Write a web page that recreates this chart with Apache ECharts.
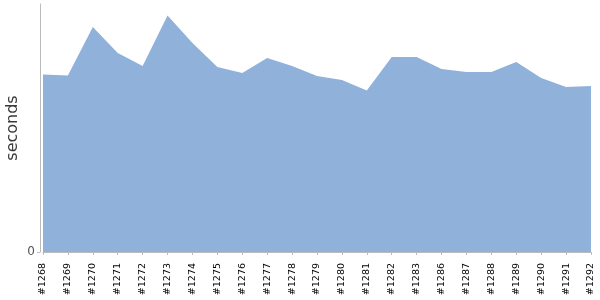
<!DOCTYPE html>
<html><head><meta charset="utf-8">
<script src="https://cdn.jsdelivr.net/npm/echarts@6/dist/echarts.min.js"></script>
<style>html,body{margin:0;padding:0;background:#fff}#c{width:600px;height:300px}</style>
</head><body><div id="c"></div>
<script>
const builds = ["#1268","#1269","#1270","#1271","#1272","#1273","#1274","#1275","#1276","#1277","#1278","#1279","#1280","#1281","#1282","#1283","#1286","#1287","#1288","#1289","#1290","#1291","#1292"];
const seconds = [177.5,176.5,225,199,186,236.5,209,185,179,194,186,176,172,161.5,195,195,183,180,180,190,174,165,166];
const yMax = 248;
const yName = 'seconds';

const chart = echarts.init(document.getElementById('c'), null, {renderer:'canvas'});
chart.setOption({
  animation:false,
  grid:{left:43,right:9,top:4,bottom:48,containLabel:false,outerBoundsMode:'none'},
  graphic:[{
    type:'text', x:13, y:128, rotation:Math.PI/2,
    style:{text:yName, align:'center', verticalAlign:'middle',
      font:'16px "DejaVu Sans"', fill:'#3a3a3a'}
  }],
  xAxis:{
    type:'category', data:builds, boundaryGap:false, offset:5,
    axisLine:{lineStyle:{color:'#bbbbbb'}},
    axisTick:{show:true,length:3,alignWithLabel:true,lineStyle:{color:'#bbbbbb'}},
    axisLabel:{rotate:90,interval:0,color:'#000',fontSize:9.5,fontFamily:'DejaVu Sans',margin:6}
  },
  yAxis:{
    type:'value', min:0, max:yMax, interval:yMax, offset:3,
    axisLine:{show:true,lineStyle:{color:'#bbbbbb'}},
    axisTick:{show:true,length:3,lineStyle:{color:'#bbbbbb'}},
    splitLine:{show:false},
    axisLabel:{color:'#555',fontSize:12,fontFamily:'DejaVu Sans',showMaxLabel:false,margin:5,
      formatter:v=>v===0?'0':''}
  },
  series:[{
    type:'line', data:seconds, symbol:'none',
    lineStyle:{width:0,color:'#8fb1da'},
    areaStyle:{color:'#8fb1da',opacity:1}
  }]
});
</script></body></html>
